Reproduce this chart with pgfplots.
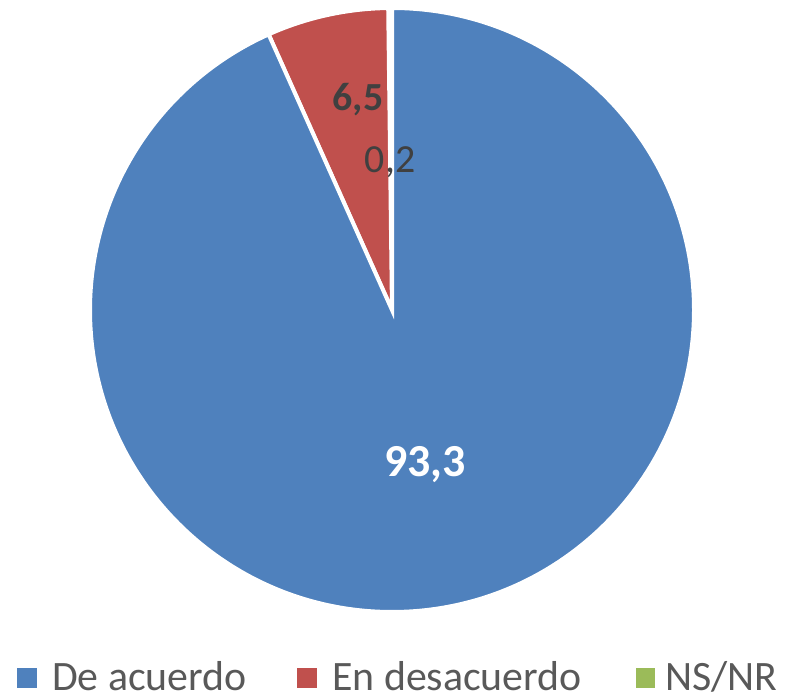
\documentclass[border=0pt]{standalone}
\usepackage{pgfplots}
\pgfplotsset{compat=1.18}
\usepackage{fontspec}
\setmainfont{Carlito}
\definecolor{cblue}{HTML}{4F81BD}
\definecolor{cred}{HTML}{C0504D}
\definecolor{cgreen}{HTML}{9BBB59}
\definecolor{labgray}{HTML}{404040}
\definecolor{leggray}{HTML}{595959}

% shares (%), clockwise from 12 o'clock
\def\vA{93.3}
\def\vB{6.5}
\def\vC{0.2}
\pgfmathsetmacro\dA{-3.6*\vA}
\pgfmathsetmacro\sB{90+\dA}
\pgfmathsetmacro\dB{-3.6*\vB}
\pgfmathsetmacro\sC{\sB+\dB}
\pgfmathsetmacro\dC{-3.6*\vC}

\begin{document}
\begin{tikzpicture}
\begin{axis}[
    scale only axis,
    width=786bp, height=696bp,
    xmin=0, xmax=786, ymin=0, ymax=696,
    hide axis, clip=false,
]
\path (axis cs:0,0) rectangle (axis cs:786,696);

% pie, centre (392,386), radius 302
\fill[cgreen, draw=white, line width=4bp] (axis cs:392,386) -- ++(\sC:302bp)
    arc[start angle=\sC, delta angle=\dC, radius=302bp] -- cycle;
\fill[cred, draw=white, line width=4bp] (axis cs:392,386) -- ++(\sB:302bp)
    arc[start angle=\sB, delta angle=\dB, radius=302bp] -- cycle;
\fill[cblue, draw=white, line width=4bp] (axis cs:392,386) -- ++(90:302bp)
    arc[start angle=90, delta angle=\dA, radius=302bp] -- cycle;

% data labels
\node[text=white, font=\bfseries\fontsize{46}{46}\selectfont] at (axis cs:425,231) {93,3};
\node[text=labgray, font=\bfseries\fontsize{40}{40}\selectfont] at (axis cs:358,596) {6,5};
\node[text=labgray, font=\fontsize{40}{40}\selectfont] at (axis cs:390,534) {0,2};

% legend
\fill[cblue] (axis cs:17,8) rectangle (axis cs:37,28);
\node[anchor=base west, text=leggray, font=\fontsize{42}{42}\selectfont, inner sep=0pt] at (axis cs:52,6) {De acuerdo};
\fill[cred] (axis cs:297,8) rectangle (axis cs:317,28);
\node[anchor=base west, text=leggray, font=\fontsize{42}{42}\selectfont, inner sep=0pt] at (axis cs:332,6) {En desacuerdo};
\fill[cgreen] (axis cs:636,8) rectangle (axis cs:655,28);
\node[anchor=base west, text=leggray, font=\fontsize{42}{42}\selectfont, inner sep=0pt] at (axis cs:665,6) {NS/NR};
\end{axis}
\end{tikzpicture}
\end{document}
